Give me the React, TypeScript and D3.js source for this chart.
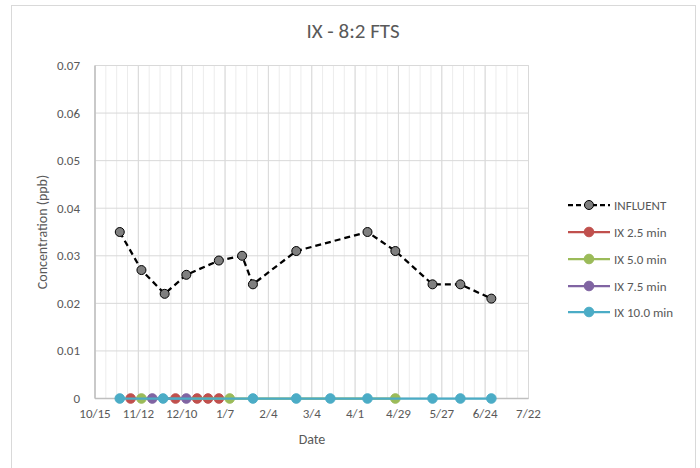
import React from "react"
import * as d3 from "d3"

const seriesNames = ["INFLUENT", "IX 2.5 min", "IX 5.0 min", "IX 7.5 min", "IX 10.0 min"]
const seriesColors = ["#000000", "#C0504D", "#9BBB59", "#8064A2", "#4BACC6"]

const influentDates = ["2018-10-31", "2018-11-14", "2018-11-29", "2018-12-13", "2019-01-03", "2019-01-18", "2019-01-25", "2019-02-22", "2019-04-09", "2019-04-27", "2019-05-21", "2019-06-08", "2019-06-28"]
const influentValues = [0.035, 0.027, 0.022, 0.026, 0.029, 0.030, 0.024, 0.031, 0.035, 0.031, 0.024, 0.024, 0.021]

const ix25Dates = ["2018-11-07", "2018-12-06", "2018-12-20", "2018-12-27", "2019-01-03"]
const ix25Values = [0, 0, 0, 0, 0]
const ix50Dates = ["2018-11-14", "2019-01-10", "2019-04-27"]
const ix50Values = [0, 0, 0]
const ix75Dates = ["2018-11-21", "2018-12-13"]
const ix75Values = [0, 0]
const ix100Dates = ["2018-10-31", "2018-11-28", "2019-01-25", "2019-02-22", "2019-03-16", "2019-04-09", "2019-05-21", "2019-06-08", "2019-06-28"]
const ix100Values = [0, 0, 0, 0, 0, 0, 0, 0, 0]

const yTicks = [0, 0.01, 0.02, 0.03, 0.04, 0.05, 0.06, 0.07]

const font = "Carlito, Calibri, Lato, 'Open Sans', sans-serif"
const textColor = "#595959"

const parse = d3.utcParse("%Y-%m-%d")
const fmt = d3.utcFormat("%-m/%-d")

const start = parse("2018-10-15") as Date
const end = parse("2019-07-22") as Date

type Pt = { date: Date, value: number }

function pts(dates: string[], values: number[]): Pt[] {
    return dates.map((d, i) => ({ date: parse(d) as Date, value: values[i] }))
}

const allSeries = [
    pts(influentDates, influentValues),
    pts(ix25Dates, ix25Values),
    pts(ix50Dates, ix50Values),
    pts(ix75Dates, ix75Values),
    pts(ix100Dates, ix100Values),
]

export default function App() {
    const width = 700
    const height = 468
    const [left, right, top, bottom] = [95, 528.5, 65.5, 398.5]

    const x = d3.scaleUtc().domain([start, end]).range([left, right])
    const y = d3.scaleLinear().domain([0, 0.07]).range([bottom, top])

    // excel style: major unit 28 days, minor 7 days, counted from the axis start
    const major = d3.range(0, 281, 28).map(d => d3.utcDay.offset(start, d))
    const minor = d3.range(0, 281, 7).map(d => d3.utcDay.offset(start, d))

    const line = d3.line<Pt>().x(d => x(d.date)).y(d => y(d.value))

    const legendX = 568
    const legendY = [205, 232, 259, 286, 312]

    return (
        <svg width={width} height={height} style={{ position: "absolute", left: 0, top: 0, background: "#fff" }}>
            <rect x={11.5} y={5.5} width={684} height={480} fill="#fff" stroke="#d9d9d9" />
            <text x={353} y={38} textAnchor="middle" fontFamily={font} fontSize={21} fill={textColor}>IX - 8:2 FTS</text>

            {/* grid */}
            {minor.map((d, i) => (
                <line key={"mn" + i} x1={x(d)} x2={x(d)} y1={top} y2={bottom} stroke="#ececec" strokeWidth={1} />
            ))}
            {major.map((d, i) => (
                <line key={"mj" + i} x1={x(d)} x2={x(d)} y1={top} y2={bottom} stroke="#d9d9d9" strokeWidth={1} />
            ))}
            {yTicks.map((t, i) => (
                <line key={"gy" + i} x1={left} x2={right} y1={y(t)} y2={y(t)} stroke="#d9d9d9" strokeWidth={1} />
            ))}
            <line x1={right} x2={right} y1={top} y2={bottom} stroke="#d9d9d9" />
            <line x1={left} x2={left} y1={top} y2={bottom} stroke="#bfbfbf" strokeWidth={1.5} />
            <line x1={left} x2={right} y1={bottom} y2={bottom} stroke="#bfbfbf" strokeWidth={1.5} />

            {/* axes labels */}
            {yTicks.map((t, i) => (
                <text key={"ty" + i} x={80} y={y(t) + 4.5} textAnchor="end" fontFamily={font} fontSize={13} fill={textColor}>{t === 0 ? "0" : t.toFixed(2)}</text>
            ))}
            {major.map((d, i) => (
                <text key={"tx" + i} x={x(d)} y={418} textAnchor="middle" fontFamily={font} fontSize={13} fill={textColor}>{fmt(d)}</text>
            ))}
            <text transform={`translate(47,${(top + bottom) / 2}) rotate(-90)`} textAnchor="middle" fontFamily={font} fontSize={14} fill={textColor}>Concentration (ppb)</text>
            <text x={312} y={444} textAnchor="middle" fontFamily={font} fontSize={14} fill={textColor}>Date</text>

            {/* series */}
            {allSeries.map((s, i) => (
                <g key={"s" + i}>
                    <path d={line(s) || ""} fill="none" stroke={seriesColors[i]} strokeWidth={2.25}
                        strokeDasharray={i === 0 ? "6,4" : undefined} />
                    {s.map((p, j) => (
                        <circle key={j} cx={x(p.date)} cy={y(p.value)} r={i === 0 ? 4.5 : 4.8}
                            fill={i === 0 ? "#7f7f7f" : seriesColors[i]}
                            stroke={i === 0 ? "#000" : seriesColors[i]} strokeWidth={1} />
                    ))}
                </g>
            ))}

            {/* legend */}
            {seriesNames.map((n, i) => (
                <g key={"l" + i}>
                    <line x1={legendX} x2={legendX + 42} y1={legendY[i]} y2={legendY[i]} stroke={seriesColors[i]} strokeWidth={2.25}
                        strokeDasharray={i === 0 ? "5,3" : undefined} />
                    <circle cx={legendX + 21} cy={legendY[i]} r={i === 0 ? 4.5 : 4.8}
                        fill={i === 0 ? "#7f7f7f" : seriesColors[i]}
                        stroke={i === 0 ? "#000" : seriesColors[i]} />
                    <text x={legendX + 46} y={legendY[i] + 4.5} fontFamily={font} fontSize={13} fill={textColor}>{n}</text>
                </g>
            ))}
        </svg>
    )
}
